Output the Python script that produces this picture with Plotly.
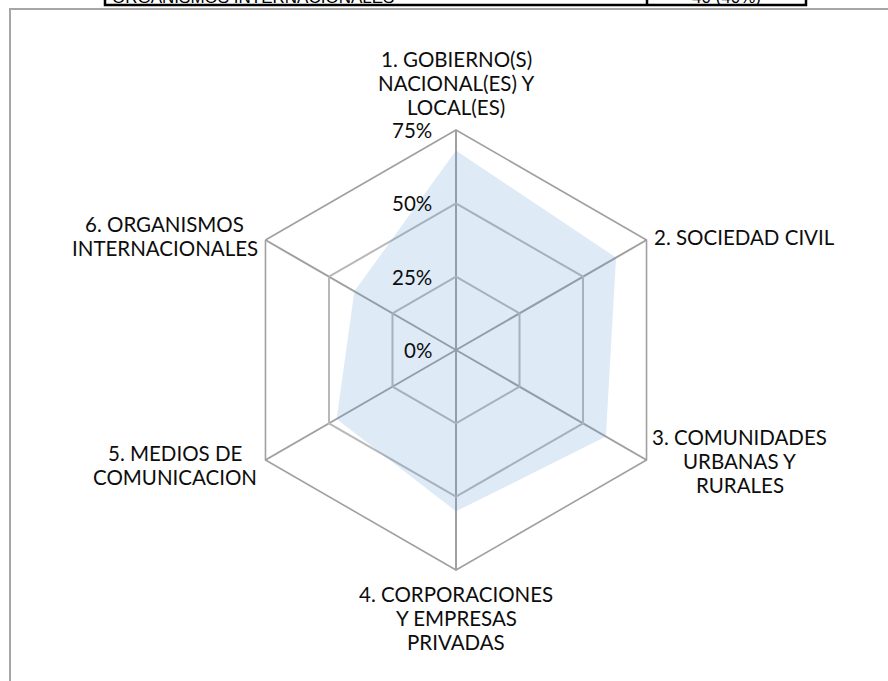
import math
import plotly.graph_objects as go

W, H = 888, 681

categories = [
    "1. GOBIERNO(S)<br>NACIONAL(ES) Y<br>LOCAL(ES)",
    "2. SOCIEDAD CIVIL",
    "3. COMUNIDADES<br>URBANAS Y<br>RURALES",
    "4. CORPORACIONES<br>Y EMPRESAS<br>PRIVADAS",
    "5. MEDIOS DE<br>COMUNICACION",
    "6. ORGANISMOS<br>INTERNACIONALES",
]
values = [68, 63, 59, 55, 47, 40]
radial_ticks = [0, 25, 50, 75]
radial_ticktext = ["0%", "25%", "50%", "75%"]
table_label = "ORGANISMOS INTERNACIONALES"
table_value = "40 (40%)"

# geometry (pixels)
CX, CY, R = 456, 350, 220
RMAX = 75
FS = 20.5
LINE = 24
TXT = "#0d0d0d"

def px(x):
    return x / W

def py(y):
    return 1 - y / H

theta = [c.replace("<br>", " ") for c in categories]

fig = go.Figure()
fig.add_trace(go.Scatterpolar(
    r=values + [values[0]],
    theta=theta + [theta[0]],
    mode="none",
    fill="toself",
    fillcolor="rgba(91,155,213,0.2)",
    hoverinfo="skip",
    showlegend=False,
))

outer = "#A0A0A0"
inner = "#B8B8B8"
fig.update_layout(
    width=W, height=H,
    margin=dict(l=0, r=0, t=0, b=0),
    paper_bgcolor="white",
    plot_bgcolor="white",
    font=dict(family="Lato", size=FS, color=TXT),
    polar=dict(
        domain=dict(x=[px(CX - R - 5), px(CX + R + 5)], y=[py(CY + R), py(CY - R)]),
        bgcolor="rgba(0,0,0,0)",
        gridshape="linear",
        radialaxis=dict(
            range=[0, RMAX], tickvals=radial_ticks,
            angle=90, showticklabels=False,
            showline=False, ticks="", gridcolor=inner, gridwidth=1.5,
        ),
        angularaxis=dict(
            rotation=90, direction="clockwise",
            showticklabels=False, ticks="",
            showline=True, linecolor=outer, linewidth=1.6,
            gridcolor=outer, gridwidth=1.6,
        ),
    ),
)

# radial tick labels (left of the vertical spoke)
for v, t in zip(radial_ticks, radial_ticktext):
    yy = CY - v / RMAX * R
    fig.add_annotation(
        x=px(CX - 22), y=py(yy), xref="paper", yref="paper",
        text=t, showarrow=False, xanchor="right", yanchor="middle",
        font=dict(family="Lato", size=FS, color=TXT),
    )

# category labels around the outer vertices: (mode, dx from vertex, dy from vertex, x anchor)
label_pos = [
    ("top", 0, -23, "center"),
    ("mid", 5, -2.5, "left"),
    ("mid", 93, 0.5, "center"),
    ("bottom", 0, 24, "center"),
    ("mid", -90, 5, "center"),
    ("mid", -100.5, -4, "center"),
]
for i, lab in enumerate(categories):
    ang = math.radians(90 - 60 * i)
    vx = CX + R * math.cos(ang)
    vy = CY - R * math.sin(ang)
    lines = lab.split("<br>")
    n = len(lines)
    mode, dx, dy, xa = label_pos[i]
    for k, ln in enumerate(lines):
        if mode == "top":
            yk = vy + dy - LINE * (n - 1 - k)
        elif mode == "bottom":
            yk = vy + dy + LINE * k
        else:
            yk = vy + dy + LINE * (k - (n - 1) / 2)
        fig.add_annotation(
            x=px(vx + dx), y=py(yk), xref="paper", yref="paper",
            text=ln, showarrow=False, xanchor=xa, yanchor="middle",
            font=dict(family="Lato", size=FS, color=TXT),
        )

# chart frame (gray border)
fig.add_shape(type="rect", xref="paper", yref="paper",
              x0=px(10), x1=1.2, y0=-0.2, y1=py(9),
              line=dict(color="#A6A6A6", width=2))

# cut-off table at top
fig.add_shape(type="rect", xref="paper", yref="paper",
              x0=px(105), x1=px(806), y0=py(5), y1=1.2,
              line=dict(color="black", width=2.5))
fig.add_shape(type="line", xref="paper", yref="paper",
              x0=px(647), x1=px(647), y0=py(5), y1=1.2,
              line=dict(color="black", width=2.5))
fig.add_annotation(x=px(110), y=py(9), xref="paper", yref="paper",
                   text=table_label, showarrow=False, xanchor="left", yanchor="bottom",
                   font=dict(family="Liberation Sans", size=17, color="black"))
fig.add_annotation(x=px(726), y=py(9), xref="paper", yref="paper",
                   text=table_value, showarrow=False, xanchor="center", yanchor="bottom",
                   font=dict(family="Liberation Sans", size=17, color="black"))

fig.write_html("out.html", config={"displayModeBar": False},
               post_script="document.body.style.margin='0';")
